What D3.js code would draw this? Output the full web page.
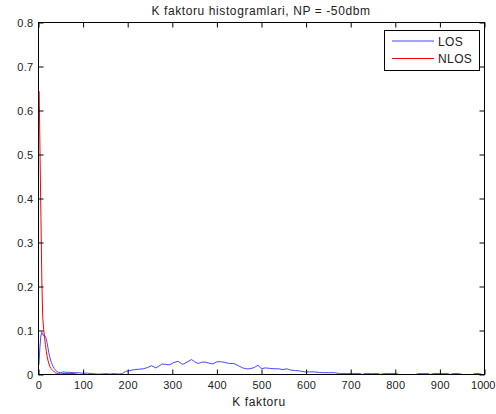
<!DOCTYPE html>
<html>
<head>
<meta charset="utf-8">
<script src="https://cdn.jsdelivr.net/npm/d3@7"></script>
<style>
  body { margin: 0; background: #fff; }
  svg { display: block; font-family: "Liberation Sans", Arial, sans-serif; }
</style>
</head>
<body>
<svg width="496" height="414"></svg>
<script>
// K factor bin centres and relative frequencies
const losK = [1, 3, 5, 7, 9, 11, 13, 15, 17, 19, 21, 23, 25, 27, 29, 31, 33, 35, 37, 39, 41, 45, 50, 55, 60, 70, 80, 90, 100, 110, 120, 130, 140, 150, 160, 170, 180, 188, 195, 205, 215, 225, 235, 245, 253, 263, 270, 277, 285, 294, 303, 313, 323, 333, 343, 350, 358, 366, 374, 382, 391, 400, 410, 420, 428, 438, 448, 458, 466, 474, 484, 492, 500, 508, 518, 528, 538, 548, 556, 566, 576, 586, 597, 608, 619, 630, 640, 652, 664, 675, 690, 705, 721, 726, 732, 747, 762, 767, 773, 788, 803, 808, 846, 851, 862, 873, 879, 885, 900, 918, 923, 929, 944, 950, 973, 978, 989, 995, 1000];
const losV = [0.022, 0.060, 0.085, 0.096, 0.094, 0.088, 0.089, 0.087, 0.082, 0.073, 0.062, 0.050, 0.041, 0.033, 0.027, 0.022, 0.018, 0.014, 0.011, 0.009, 0.007, 0.005, 0.004, 0.006, 0.005, 0.005, 0.004, 0.004, 0.003, 0.003, 0.002, 0.001, 0.001, 0.002, 0.001, 0.002, 0.001, 0.002, 0.007, 0.009, 0.011, 0.012, 0.013, 0.016, 0.020, 0.015, 0.019, 0.024, 0.023, 0.022, 0.027, 0.030, 0.023, 0.028, 0.034, 0.029, 0.025, 0.028, 0.028, 0.026, 0.024, 0.029, 0.029, 0.027, 0.025, 0.025, 0.020, 0.015, 0.013, 0.013, 0.016, 0.021, 0.013, 0.015, 0.014, 0.013, 0.013, 0.011, 0.013, 0.010, 0.009, 0.008, 0.006, 0.006, 0.006, 0.0045, 0.004, 0.004, 0.004, 0.002, 0.002, 0.002, 0.002, 0, 0.002, 0.002, 0.002, 0, 0.002, 0.002, 0.002, 0, 0, 0.002, 0.002, 0.002, 0, 0.002, 0.002, 0.002, 0, 0.002, 0.002, 0, 0, 0.002, 0.002, 0, 0];

const nlosK = [1.5, 3.5, 5.5, 7.5, 9.5, 11.5, 13.5, 15.5, 17.5, 19.5, 21.5, 23.5, 25.5, 27.5, 29.5, 31.5, 33.5, 35.5, 37.5, 40, 45, 50, 55, 60, 70, 80, 85, 90, 1000];
const nlosV = [0.644, 0.498, 0.357, 0.212, 0.130, 0.103, 0.085, 0.068, 0.053, 0.041, 0.031, 0.024, 0.018, 0.014, 0.012, 0.010, 0.008, 0.006, 0.004, 0.003, 0.002, 0.001, 0.002, 0.002, 0.002, 0.002, 0.001, 0, 0];

const xTicks = [0, 100, 200, 300, 400, 500, 600, 700, 800, 900, 1000];
const yTicks = [0, 0.1, 0.2, 0.3, 0.4, 0.5, 0.6, 0.7, 0.8];
const seriesNames = ["LOS", "NLOS"];

const TICK_LEN = 5;

function drawChart(svgSelector) {
  const svg = d3.select(svgSelector);

  const left = 38.5;
  const right = 484.5;
  const top = 22.5;
  const bottom = 374.5;

  const x = d3.scaleLinear().domain([0, 1000]).range([left, right]);
  const y = d3.scaleLinear().domain([0, 0.8]).range([bottom, top]);

  const lineColors = ["#4646ff", "#ff0000"];

  const line = d3
    .line()
    .x((d) => x(d[0]))
    .y((d) => y(d[1]));

  const losData = losK.map((k, i) => [k, losV[i]]);
  const nlosData = nlosK.map((k, i) => [k, nlosV[i]]);

  svg
    .append("path")
    .datum(losData)
    .attr("fill", "none")
    .attr("stroke", lineColors[0])
    .attr("stroke-width", 1)
    .attr("d", line);

  svg
    .append("path")
    .datum(nlosData)
    .attr("fill", "none")
    .attr("stroke", lineColors[1])
    .attr("stroke-width", 1)
    .attr("d", line);

  // axes go on top so the zero-valued bins hide under the box line
  const fmtY = (d) => (d === 0 ? "0" : d3.format(".1f")(d));

  const xAxis = svg
    .append("g")
    .attr("transform", `translate(0,${bottom})`)
    .call(d3.axisBottom(x).tickValues(xTicks).tickSize(-TICK_LEN).tickPadding(7).tickFormat(d3.format("d")));

  svg
    .append("g")
    .attr("transform", `translate(0,${top})`)
    .call(d3.axisTop(x).tickValues(xTicks).tickSize(-TICK_LEN).tickFormat(""));

  svg
    .append("g")
    .attr("transform", `translate(${left},0)`)
    .call(d3.axisLeft(y).tickValues(yTicks).tickSize(-TICK_LEN).tickPadding(5).tickFormat(fmtY));

  svg
    .append("g")
    .attr("transform", `translate(${right},0)`)
    .call(d3.axisRight(y).tickValues(yTicks).tickSize(-TICK_LEN).tickFormat(""));

  svg.selectAll(".domain").remove();
  svg.selectAll(".tick line").attr("stroke", "#000");
  svg
    .selectAll(".tick text")
    .attr("fill", "#222")
    .style("font-size", "11px")
    .style("letter-spacing", "0.3px")
    .style("font-family", '"Liberation Sans", Arial, sans-serif');

  // last x label sits at the window edge, keep it inside
  xAxis
    .selectAll(".tick text")
    .filter((d) => d === 1000)
    .attr("text-anchor", "end")
    .attr("x", 495 - right)
    .style("letter-spacing", "0px");

  svg
    .append("rect")
    .attr("x", left)
    .attr("y", top)
    .attr("width", right - left)
    .attr("height", bottom - top)
    .attr("fill", "none")
    .attr("stroke", "#000")
    .attr("stroke-width", 1);

  svg
    .append("text")
    .attr("x", 261)
    .attr("y", 14.5)
    .attr("text-anchor", "middle")
    .attr("font-size", "12px")
    .attr("letter-spacing", "0.6px")
    .attr("fill", "#222")
    .text("K faktoru histogramlari, NP = -50dbm");

  svg
    .append("text")
    .attr("x", 259)
    .attr("y", 405.5)
    .attr("text-anchor", "middle")
    .attr("font-size", "12px")
    .attr("letter-spacing", "0.6px")
    .attr("fill", "#222")
    .text("K faktoru");

  // legend
  const legend = svg.append("g");
  legend
    .append("rect")
    .attr("x", 384.5)
    .attr("y", 30.5)
    .attr("width", 95)
    .attr("height", 40)
    .attr("fill", "#fff")
    .attr("stroke", "#000");

  const legendY = [41, 58.5];
  seriesNames.forEach((name, i) => {
    legend
      .append("line")
      .attr("x1", 392)
      .attr("x2", 434)
      .attr("y1", legendY[i])
      .attr("y2", legendY[i])
      .attr("stroke", lineColors[i])
      .attr("stroke-width", 1);
    legend
      .append("text")
      .attr("x", 438)
      .attr("y", legendY[i] + 4.5)
      .attr("font-size", "12px")
      .attr("letter-spacing", "0.4px")
      .attr("fill", "#222")
      .text(name);
  });
}

window.addEventListener("load", () => {
  drawChart("svg");
});
</script>
</body>
</html>
